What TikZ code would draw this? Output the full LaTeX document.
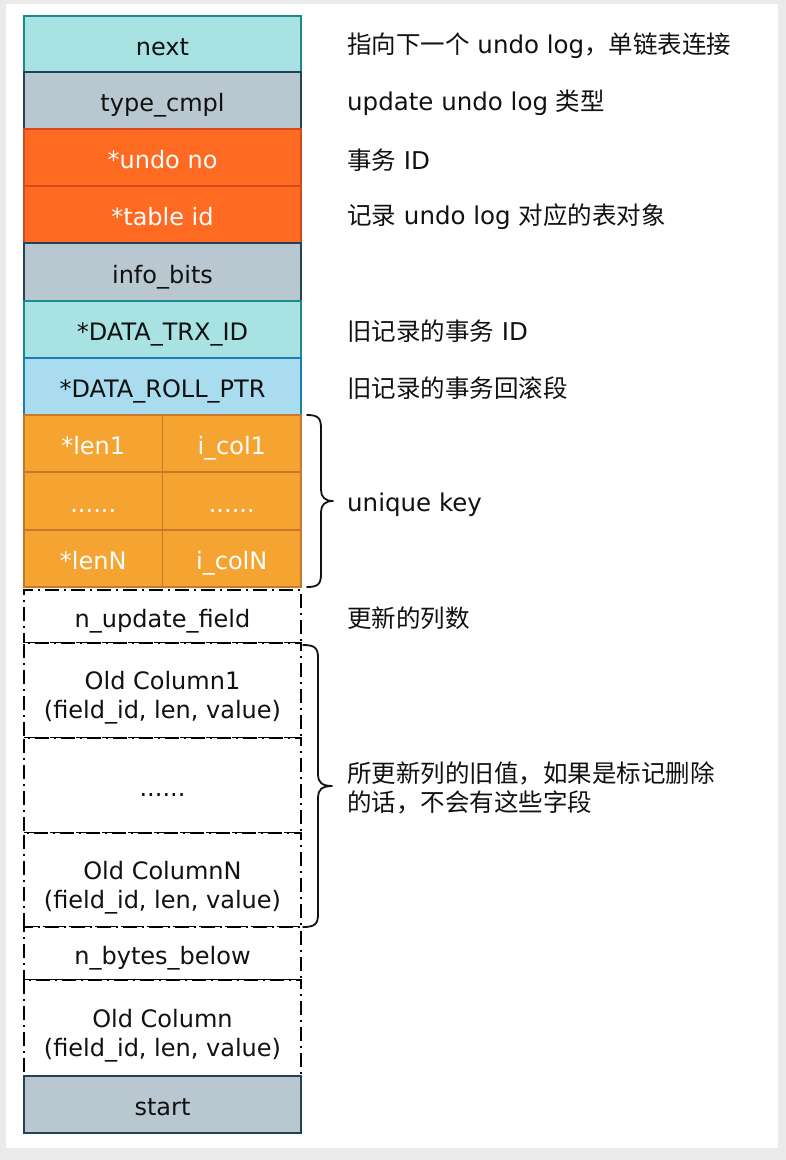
\documentclass[tikz,border=0pt]{standalone}
\usepackage{fontspec}
\setmainfont{DejaVu Sans}
\newfontfamily\cjk{Noto Sans CJK SC}
\definecolor{outerbg}{HTML}{EBEBEB}
\definecolor{cyanfill}{HTML}{A8E2E2}
\definecolor{cyanline}{HTML}{1B8A8E}
\definecolor{grayfill}{HTML}{B9C7D1}
\definecolor{grayline}{HTML}{22425C}
\definecolor{redfill}{HTML}{FF6A22}
\definecolor{redline}{HTML}{D8481E}
\definecolor{bluefill}{HTML}{A8DCEE}
\definecolor{blueline}{HTML}{1B7EB5}
\definecolor{orfill}{HTML}{F5A331}
\definecolor{orline}{HTML}{C8782A}
\definecolor{ink}{HTML}{111111}
\begin{document}
\begin{tikzpicture}[x=1pt,y=-1pt,
  cell/.style={draw, line width=1.8pt, minimum width=277pt, minimum height=57pt, inner sep=0pt,
    font=\fontsize{24}{29}\selectfont, align=center, text=ink, text height=22pt, text depth=0pt},
  twoline/.style={text height=56pt, text depth=0pt},
  cyancell/.style={cell, fill=cyanfill, draw=cyanline},
  graycell/.style={cell, fill=grayfill, draw=grayline},
  redcell/.style={cell, fill=redfill, draw=redline, text=white},
  bluecell/.style={cell, fill=bluefill, draw=blueline},
  orcell/.style={cell, fill=orfill, draw=orline, text=white, minimum width=138.5pt},
  ddcell/.style={cell, fill=white, draw=black, dash pattern=on 14pt off 5pt on 2pt off 5pt},
  note/.style={anchor=west, inner sep=0pt, font=\fontsize{24.5}{29}\selectfont, align=left, text=ink},
  bracestyle/.style={line width=1.8pt, line cap=round, line join=round, draw=ink}
]
\fill[outerbg] (0,0) rectangle (786,1160);
\fill[white] (6,4) rectangle (778,1148);
\useasboundingbox (0,0) rectangle (786,1160);

% main column
\node[cyancell, minimum height=56pt] (next) at (162.5,44) {next};
\node[graycell] (type) at (162.5,100.5) {type\_cmpl};
\node[redcell] (undono) at (162.5,157.5) {*undo no};
\node[redcell] (tableid) at (162.5,214.5) {*table id};
\node[graycell, minimum height=58pt] (info) at (162.5,272) {info\_bits};
\node[cyancell] (trx) at (162.5,329.5) {*DATA\_TRX\_ID};
\node[bluecell] (roll) at (162.5,386.5) {*DATA\_ROLL\_PTR};
\node[orcell] (len1) at (93.25,443.5) {*len1};
\node[orcell] (col1) at (231.75,443.5) {i\_col1};
\node[orcell, minimum height=58pt] (lendots) at (93.25,501) {......};
\node[orcell, minimum height=58pt] (coldots) at (231.75,501) {......};
\node[orcell] (lenN) at (93.25,558.5) {*lenN};
\node[orcell] (colN) at (231.75,558.5) {i\_colN};
\node[ddcell, minimum height=53pt] (nupd) at (162.5,616.5) {n\_update\_field};
\node[ddcell, twoline, minimum height=95pt] (old1) at (162.5,690.5) {Old Column1\\(field\_id, len, value)};
\node[ddcell, minimum height=95pt] (olddots) at (162.5,785.5) {......};
\node[ddcell, twoline, minimum height=94pt] (oldN) at (162.5,880) {Old ColumnN\\(field\_id, len, value)};
\node[ddcell, minimum height=53pt] (nbytes) at (162.5,953.5) {n\_bytes\_below};
\node[ddcell, twoline, minimum height=96pt] (oldc) at (162.5,1028) {Old Column\\(field\_id, len, value)};
\node[graycell] (start) at (162.5,1104.5) {start};

% notes
\node[note] (t1) at (347,46) {{\cjk 指向下一个} undo log{\cjk ，单链表连接}};
\node[note] (t2) at (347,103) {update undo log {\cjk 类型}};
\node[note] (t3) at (347,160) {{\cjk 事务} ID};
\node[note] (t4) at (347,217) {{\cjk 记录} undo log {\cjk 对应的表对象}};
\node[note] (t5) at (347,331) {{\cjk 旧记录的事务} ID};
\node[note] (t6) at (347,388) {{\cjk 旧记录的事务回滚段}};
\node[note] (t7) at (347,505) {unique key};
\node[note] (t8) at (347,618) {{\cjk 更新的列数}};
\node[note] (t9) at (347,788) {{\cjk 所更新列的旧值，如果是标记删除}\\{\cjk 的话，不会有这些字段}};

% braces
\draw[bracestyle] (307,415) .. controls (318,415) and (321,418) .. (321,428) -- (321,490)
  .. controls (321,497) and (325,501) .. (333,501)
  .. controls (325,501) and (321,505) .. (321,512) -- (321,574)
  .. controls (321,584) and (318,587) .. (307,587);
\draw[bracestyle] (303,645) .. controls (315,645) and (318,648) .. (318,658) -- (318,775)
  .. controls (318,782) and (322,786) .. (332,786)
  .. controls (322,786) and (318,790) .. (318,797) -- (318,914)
  .. controls (318,924) and (315,927) .. (303,927);
\end{tikzpicture}
\end{document}
